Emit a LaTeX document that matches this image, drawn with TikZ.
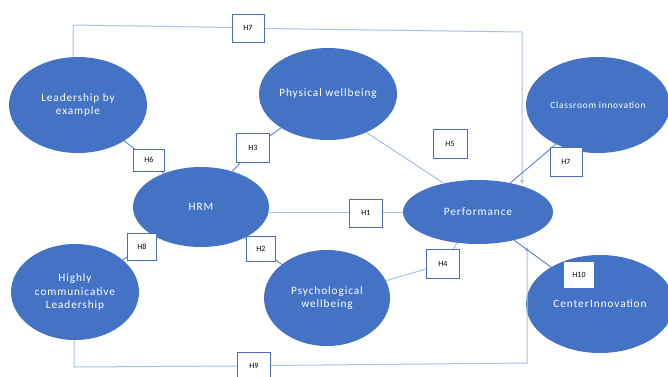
\documentclass[tikz,border=0pt]{standalone}
\usepackage{fontspec}
\setmainfont{Carlito}
\newfontfamily\ellfont[LetterSpace=8]{Carlito}
\definecolor{ellblue}{HTML}{4472C4}
\definecolor{lightline}{HTML}{A9C1E8}
\definecolor{midline}{HTML}{5B80C8}
\definecolor{boxline}{HTML}{4A6FB5}
\usetikzlibrary{shapes.geometric,arrows.meta}
\begin{document}
\begin{tikzpicture}[x=1pt,y=-1pt,
  ell/.style={ellipse,fill=ellblue,draw=none,inner sep=0pt,text=white,align=center,
    font=\ellfont\fontsize{11.3}{13.5}\selectfont},
  hbox/.style={draw=boxline,line width=0.9pt,fill=white,minimum width=32pt,minimum height=28pt,
    inner sep=0pt,font=\fontsize{8}{9}\selectfont},
  light/.style={draw=lightline,line width=1pt},
  mid/.style={draw=midline,line width=0.9pt},
  tip/.style={-{Triangle[length=4pt,width=4pt]}}]
\useasboundingbox (0,0) rectangle (668,376);
\fill[white] (0,0) rectangle (668,376);
% ellipses
\node[ell,minimum width=138pt,minimum height=96pt] (lead) at (78,105) {Leadership by\\example};
\node[ell,minimum width=138pt,minimum height=92pt] (phys) at (328,94) {Physical wellbeing};
\node[ell,minimum width=144pt,minimum height=96pt,font=\ellfont\fontsize{9.4}{12}\selectfont] (class) at (598,105) {Classroom innovation};
\node[ell,minimum width=136pt,minimum height=80pt] (hrm) at (201,207) {HRM};
\node[ell,minimum width=150pt,minimum height=64pt] (perf) at (478,212) {Performance};
\node[ell,minimum width=128pt,minimum height=96pt] (high) at (75,292) {Highly\\communicative\\Leadership};
\node[ell,minimum width=126pt,minimum height=96pt] (psych) at (327,298) {Psychological\\wellbeing};
\node[ell,minimum width=148pt,minimum height=98pt] (center) at (600,304) {Center\hspace{1.5pt}Innovation};
% coordinates
\coordinate (tl) at (73,25);
\coordinate (tr) at (522,32);
\coordinate (pa) at (522,184);
\coordinate (bl) at (74,367);
\coordinate (br) at (527,363);
\coordinate (pb) at (527,247);
% connectors
\draw[light] (lead.north -| tl) -- (tl) -- (232,27.5);
\draw[light,tip] (264,28.5) -- (tr) -- (pa);
\draw[light] (high.south -| bl) -- (bl) -- (238,366);
\draw[light,tip] (271,365.5) -- (br) -- (pb);
\draw[mid] (lead) -- (149,160) -- (hrm);
\draw[mid] (phys) -- (253,148) -- (hrm);
\draw[light] (phys.-45) -- (perf.140);
\draw[mid] (class.223) -- (perf.42);
\draw[light] (269,212) -- (403,212);
\draw[mid] (hrm) -- (261,249) -- (psych);
\draw[light] (psych) -- (443,264) -- (perf);
\draw[mid] (high) -- (142,247);
\draw[mid] (center.143) -- (perf.-38);
% boxes
\node[hbox] (h7a) at (248,28) {H7};
\node[hbox,minimum width=31pt,minimum height=22pt] (h6) at (149,160) {H6};
\node[hbox,minimum width=33pt,minimum height=29pt] (h3) at (253,148) {H3};
\node[hbox,minimum width=34pt,minimum height=29pt] (h5) at (450,144) {H5};
\node[hbox,minimum width=32pt,minimum height=29pt] (h7b) at (566,162) {H7};
\node[hbox,minimum width=29pt,minimum height=27pt] (h8) at (142,247) {H8};
\node[hbox,minimum width=29pt,minimum height=25pt] (h2) at (261,249) {H2};
\node[hbox,minimum width=33pt,minimum height=28pt] (h1) at (366,213) {H1};
\node[hbox,minimum width=33pt,minimum height=29pt] (h4) at (443,264) {H4};
\node[hbox,minimum width=33pt,minimum height=28pt] (h9) at (254,366) {H9};
\node[hbox,draw=none,minimum width=30pt,minimum height=26pt] (h10) at (579,275) {H10};
\end{tikzpicture}
\end{document}
